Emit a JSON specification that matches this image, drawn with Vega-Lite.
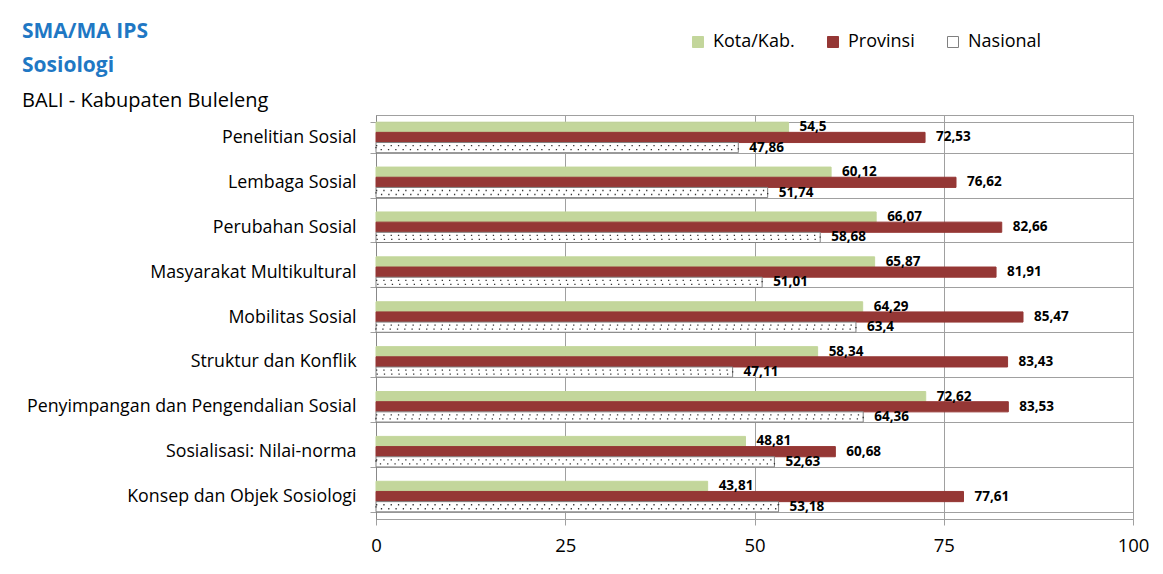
{
  "$schema": "https://vega.github.io/schema/vega-lite/v6.json",
  "width": 757,
  "height": 404,
  "autosize": {"type": "none"},
  "padding": {"left": 376, "top": 115, "right": 30, "bottom": 55},
  "background": "white",
  "config": {
    "font": "Open Sans",
    "view": {"stroke": "#a0a0a0", "strokeWidth": 1},
    "locale": {"number": {"decimal": ",", "thousands": ".", "grouping": [3], "currency": ["", ""]}}
  },
  "title": {
    "text": ["SMA/MA IPS", "Sosiologi"],
    "subtitle": "BALI - Kabupaten Buleleng",
    "anchor": "start",
    "frame": "group",
    "dx": -354,
    "fontSize": 21,
    "fontWeight": "bold",
    "color": "#1f78c4",
    "lineHeight": 34,
    "subtitleFontSize": 20,
    "subtitleColor": "#000000",
    "subtitlePadding": 15,
    "offset": -78
  },
  "data": {
    "values": [
      {"topik": "Penelitian Sosial", "seri": "Kota/Kab.", "nilai": 54.5},
      {"topik": "Penelitian Sosial", "seri": "Provinsi", "nilai": 72.53},
      {"topik": "Penelitian Sosial", "seri": "Nasional", "nilai": 47.86},
      {"topik": "Lembaga Sosial", "seri": "Kota/Kab.", "nilai": 60.12},
      {"topik": "Lembaga Sosial", "seri": "Provinsi", "nilai": 76.62},
      {"topik": "Lembaga Sosial", "seri": "Nasional", "nilai": 51.74},
      {"topik": "Perubahan Sosial", "seri": "Kota/Kab.", "nilai": 66.07},
      {"topik": "Perubahan Sosial", "seri": "Provinsi", "nilai": 82.66},
      {"topik": "Perubahan Sosial", "seri": "Nasional", "nilai": 58.68},
      {"topik": "Masyarakat Multikultural", "seri": "Kota/Kab.", "nilai": 65.87},
      {"topik": "Masyarakat Multikultural", "seri": "Provinsi", "nilai": 81.91},
      {"topik": "Masyarakat Multikultural", "seri": "Nasional", "nilai": 51.01},
      {"topik": "Mobilitas Sosial", "seri": "Kota/Kab.", "nilai": 64.29},
      {"topik": "Mobilitas Sosial", "seri": "Provinsi", "nilai": 85.47},
      {"topik": "Mobilitas Sosial", "seri": "Nasional", "nilai": 63.4},
      {"topik": "Struktur dan Konflik", "seri": "Kota/Kab.", "nilai": 58.34},
      {"topik": "Struktur dan Konflik", "seri": "Provinsi", "nilai": 83.43},
      {"topik": "Struktur dan Konflik", "seri": "Nasional", "nilai": 47.11},
      {"topik": "Penyimpangan dan Pengendalian Sosial", "seri": "Kota/Kab.", "nilai": 72.62},
      {"topik": "Penyimpangan dan Pengendalian Sosial", "seri": "Provinsi", "nilai": 83.53},
      {"topik": "Penyimpangan dan Pengendalian Sosial", "seri": "Nasional", "nilai": 64.36},
      {"topik": "Sosialisasi: Nilai-norma", "seri": "Kota/Kab.", "nilai": 48.81},
      {"topik": "Sosialisasi: Nilai-norma", "seri": "Provinsi", "nilai": 60.68},
      {"topik": "Sosialisasi: Nilai-norma", "seri": "Nasional", "nilai": 52.63},
      {"topik": "Konsep dan Objek Sosiologi", "seri": "Kota/Kab.", "nilai": 43.81},
      {"topik": "Konsep dan Objek Sosiologi", "seri": "Provinsi", "nilai": 77.61},
      {"topik": "Konsep dan Objek Sosiologi", "seri": "Nasional", "nilai": 53.18}
    ]
  },
  "encoding": {
    "y": {
      "field": "topik",
      "type": "nominal",
      "sort": null,
      "scale": {"paddingInner": 0.32, "paddingOuter": 0.16},
      "axis": {
        "title": null,
        "grid": true,
        "gridColor": "#a0a0a0",
        "tickBand": "extent",
        "tickColor": "#a0a0a0",
        "tickSize": 6,
        "domainColor": "#888888",
        "labelFontSize": 17.8,
        "labelColor": "#000000",
        "labelPadding": 14,
        "labelLimit": 400
      }
    },
    "yOffset": {
      "field": "seri",
      "type": "nominal",
      "sort": ["Kota/Kab.", "Provinsi", "Nasional"],
      "scale": {"paddingInner": 0, "paddingOuter": 0}
    },
    "x": {
      "field": "nilai",
      "type": "quantitative",
      "scale": {"domain": [0, 100], "nice": false},
      "axis": {
        "title": null,
        "values": [0, 25, 50, 75, 100],
        "grid": true,
        "gridColor": "#a0a0a0",
        "tickColor": "#a0a0a0",
        "tickSize": 6,
        "domainColor": "#a0a0a0",
        "labelFontSize": 18.5,
        "labelColor": "#000000",
        "labelPadding": 11,
        "labelFlush": false
      }
    }
  },
  "layer": [
    {
      "mark": {"type": "bar", "strokeWidth": 1},
      "encoding": {
        "fill": {
          "field": "seri",
          "type": "nominal",
          "sort": ["Kota/Kab.", "Provinsi", "Nasional"],
          "scale": {"domain": ["Kota/Kab.", "Provinsi", "Nasional"], "range": ["#c3d69b", "#953735", "#ffffff"]},
          "legend": {
            "title": null,
            "orient": "none",
            "direction": "horizontal",
            "legendX": 313,
            "legendY": -82,
            "symbolType": "square",
            "symbolSize": 121,
            "symbolStrokeWidth": 1,
            "labelFontSize": 18,
            "labelColor": "#000000",
            "columnPadding": 29,
            "labelOffset": 6
          }
        },
        "stroke": {
          "field": "seri",
          "type": "nominal",
          "sort": ["Kota/Kab.", "Provinsi", "Nasional"],
          "scale": {"domain": ["Kota/Kab.", "Provinsi", "Nasional"], "range": ["#c3d69b", "#953735", "#808080"]},
          "legend": {
            "title": null,
            "orient": "none",
            "direction": "horizontal",
            "legendX": 313,
            "legendY": -82,
            "symbolType": "square",
            "symbolSize": 121,
            "symbolStrokeWidth": 1,
            "labelFontSize": 18,
            "labelColor": "#000000",
            "columnPadding": 29,
            "labelOffset": 6
          }
        }
      }
    },
    {
      "transform": [{"filter": "datum.seri === 'Nasional'"}],
      "mark": {"type": "bar", "fill": "transparent", "stroke": "#333333", "strokeDash": [1.3, 6], "strokeWidth": 1.3, "height": 4},
      "encoding": {}
    },
    {
      "mark": {"type": "text", "align": "left", "baseline": "middle", "dx": 11, "fontSize": 13.5, "fontWeight": "bold", "color": "#000000"},
      "encoding": {
        "text": {"field": "nilai", "type": "quantitative", "format": ".2~f"}
      }
    }
  ]
}
